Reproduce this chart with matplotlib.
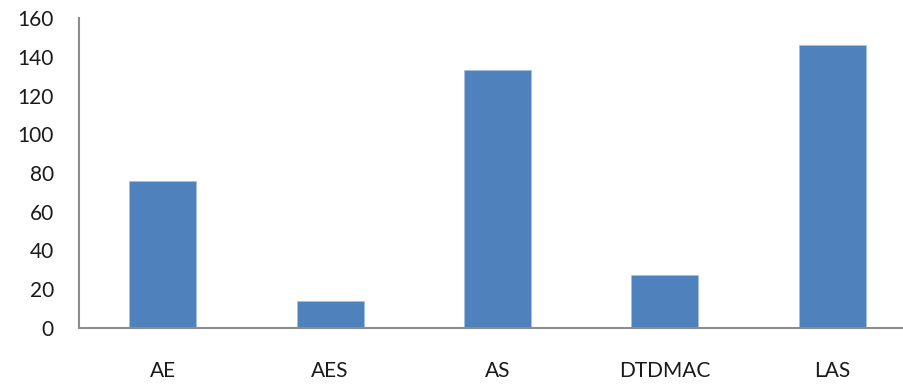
import matplotlib.pyplot as plt

categories = ['AE', 'AES', 'AS', 'DTDMAC', 'LAS']
values = [76, 14, 133, 27.5, 146]
y_ticks = [0, 20, 40, 60, 80, 100, 120, 140, 160]

plt.rcParams['font.family'] = ['Lato', 'DejaVu Sans']

fig = plt.figure(figsize=(9.04, 3.84), dpi=100)
ax = fig.add_axes([79 / 904, 56 / 384, 837 / 904, 310 / 384])

x = range(len(categories))
ax.bar(x, values, width=0.4, color='#4F81BD', edgecolor='#A7C0E0', linewidth=0.6)

ax.set_xlim(-0.5, len(categories) - 0.5)
ax.set_ylim(0, 160)
ax.set_yticks(y_ticks)
ax.set_xticks(list(x))
ax.set_xticklabels(categories)

for side in ['top', 'right']:
    ax.spines[side].set_visible(False)
for side in ['left', 'bottom']:
    ax.spines[side].set_color('#8C8C8C')
    ax.spines[side].set_linewidth(1.5)

ax.tick_params(axis='y', length=0, pad=18, labelsize=15, labelcolor='#1a1a1a')
ax.tick_params(axis='x', length=0, pad=24, labelsize=15, labelcolor='#1a1a1a')

fig.savefig('out.png', dpi=100)
